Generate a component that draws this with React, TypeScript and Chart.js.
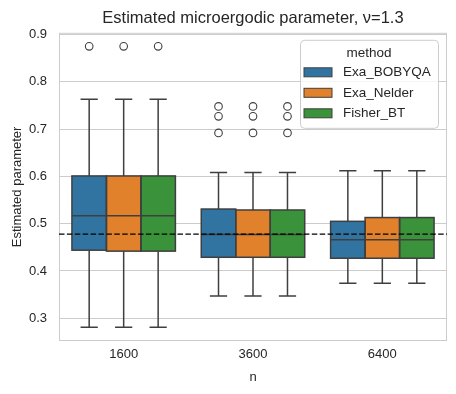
import React, { useEffect, useRef } from "react";
import { Chart, registerables } from "chart.js";

Chart.register(...registerables);

const categories = ["1600", "3600", "6400"];
const methods = ["Exa_BOBYQA", "Exa_Nelder", "Fisher_BT"];
const methodColors = ["#3274A1", "#E1812C", "#3A923A"];

// [method][category]
const whiskerLow = [
  [0.281, 0.347, 0.374],
  [0.281, 0.347, 0.374],
  [0.281, 0.347, 0.374],
];
const q1 = [
  [0.444, 0.429, 0.427],
  [0.442, 0.429, 0.427],
  [0.442, 0.429, 0.427],
];
const medians = [
  [0.517, 0.477, 0.466],
  [0.517, 0.477, 0.466],
  [0.517, 0.477, 0.466],
];
const q3 = [
  [0.601, 0.531, 0.505],
  [0.601, 0.529, 0.513],
  [0.601, 0.529, 0.513],
];
const whiskerHigh = [
  [0.763, 0.608, 0.612],
  [0.763, 0.608, 0.612],
  [0.763, 0.608, 0.612],
];
const outliers = [
  [[0.875], [0.748, 0.727, 0.692], []],
  [[0.875], [0.748, 0.727, 0.692], []],
  [[0.875], [0.748, 0.727, 0.692], []],
];
const referenceValue = 0.478;

const FONT = "'Liberation Sans', Arial, sans-serif";
const TEXT = "#262626";
const LINE = "#3f3f3f";
const GRID = "#cccccc";

const boxPlugin = {
  id: "boxplotDraw",
  beforeDatasetsDraw(chart: any) {
    const { ctx, chartArea: a } = chart;
    ctx.save();
    ctx.strokeStyle = GRID;
    ctx.lineWidth = 1;
    ctx.strokeRect(a.left + 0.5, a.top + 0.5, a.right - a.left - 1, a.bottom - a.top - 1);
    ctx.restore();
  },
  afterDatasetsDraw(chart: any) {
    const { ctx, chartArea: a } = chart;
    const ys = chart.scales.y;
    ctx.save();
    chart.data.datasets.forEach((_ds: any, d: number) => {
      const meta = chart.getDatasetMeta(d);
      meta.data.forEach((el: any, i: number) => {
        const { x, width } = el.getProps(["x", "width"], true);
        const l = x - width / 2;
        const pLo = ys.getPixelForValue(whiskerLow[d][i]);
        const pQ1 = ys.getPixelForValue(q1[d][i]);
        const pMed = ys.getPixelForValue(medians[d][i]);
        const pQ3 = ys.getPixelForValue(q3[d][i]);
        const pHi = ys.getPixelForValue(whiskerHigh[d][i]);
        ctx.strokeStyle = LINE;
        ctx.lineWidth = 1.5;
        ctx.beginPath();
        ctx.moveTo(x, pQ3);
        ctx.lineTo(x, pHi);
        ctx.moveTo(x, pQ1);
        ctx.lineTo(x, pLo);
        ctx.moveTo(x - width / 4, pHi);
        ctx.lineTo(x + width / 4, pHi);
        ctx.moveTo(x - width / 4, pLo);
        ctx.lineTo(x + width / 4, pLo);
        ctx.moveTo(l, pMed);
        ctx.lineTo(l + width, pMed);
        ctx.stroke();
        ctx.strokeRect(l, pQ3, width, pQ1 - pQ3);
        ctx.lineWidth = 1.1;
        outliers[d][i].forEach((v) => {
          ctx.beginPath();
          ctx.arc(x, ys.getPixelForValue(v), 3.8, 0, Math.PI * 2);
          ctx.stroke();
        });
      });
    });
    // reference line
    const yr = ys.getPixelForValue(referenceValue);
    ctx.setLineDash([5.5, 2.4]);
    ctx.strokeStyle = "#000";
    ctx.lineWidth = 1.3;
    ctx.beginPath();
    ctx.moveTo(a.left, yr);
    ctx.lineTo(a.right, yr);
    ctx.stroke();
    ctx.setLineDash([]);

    // legend
    const lw = 138, lh = 88;
    const lx = a.right - 9 - lw;
    const ly = a.top + 7;
    ctx.fillStyle = "rgba(255,255,255,0.8)";
    ctx.strokeStyle = GRID;
    ctx.lineWidth = 1;
    ctx.beginPath();
    ctx.roundRect(lx + 0.5, ly + 0.5, lw, lh, 4);
    ctx.fill();
    ctx.stroke();
    ctx.fillStyle = TEXT;
    ctx.font = `13.5px ${FONT}`;
    ctx.textAlign = "center";
    ctx.textBaseline = "middle";
    ctx.fillText("method", lx + lw / 2, ly + 13);
    ctx.textAlign = "left";
    methods.forEach((m, k) => {
      const cy = ly + 32.5 + k * 20.5;
      ctx.fillStyle = methodColors[k];
      ctx.fillRect(lx + 4, cy - 4.5, 28, 9);
      ctx.strokeStyle = LINE;
      ctx.lineWidth = 1;
      ctx.strokeRect(lx + 4, cy - 4.5, 28, 9);
      ctx.fillStyle = TEXT;
      ctx.fillText(m, lx + 43, cy);
    });
    ctx.restore();
  },
};

export default function App() {
  const ref = useRef<HTMLCanvasElement>(null);
  useEffect(() => {
    document.body.style.margin = "0";
    if (!ref.current) return;
    const chart = new Chart(ref.current, {
      type: "bar",
      data: {
        labels: categories,
        datasets: methods.map((m, d) => ({
          label: m,
          data: categories.map((_c, i) => [q1[d][i], q3[d][i]]),
          backgroundColor: methodColors[d],
          borderWidth: 0,
          categoryPercentage: 0.8,
          barPercentage: 1,
        })),
      },
      options: {
        responsive: false,
        animation: false,
        devicePixelRatio: 1,
        layout: { padding: { left: 0, right: 9, top: 0, bottom: 0 } },
        plugins: {
          legend: { display: false },
          tooltip: { enabled: false },
          title: {
            display: true,
            fullSize: false,
            text: "Estimated microergodic parameter, ν=1.3",
            color: TEXT,
            font: { family: FONT, size: 16.5, weight: "normal" },
            padding: { top: 9, bottom: 4 },
          },
        },
        scales: {
          x: {
            type: "category",
            offset: true,
            grid: { display: false, drawTicks: false },
            border: { display: false },
            ticks: { color: TEXT, font: { family: FONT, size: 13 }, padding: 6 },
            title: {
              display: true,
              text: "n",
              color: TEXT,
              font: { family: FONT, size: 13 },
              padding: { top: 0, bottom: 9 },
            },
            afterFit: (s: any) => {
              s.height = 53;
            },
          },
          y: {
            type: "linear",
            min: 0.252,
            max: 0.9036,
            grid: { color: GRID, lineWidth: 1, drawTicks: false },
            border: { display: false },
            ticks: {
              stepSize: 0.1,
              includeBounds: false,
              color: TEXT,
              font: { family: FONT, size: 13 },
              padding: 12,
              callback: (v: any) => Number(v).toFixed(1),
            },
            title: {
              display: true,
              text: "Estimated parameter",
              color: TEXT,
              font: { family: FONT, size: 13 },
              padding: { top: 10, bottom: 0 },
            },
            afterFit: (s: any) => {
              s.width = 59;
            },
          },
        },
      } as any,
      plugins: [boxPlugin],
    });
    return () => chart.destroy();
  }, []);
  return (
    <div style={{ width: 456, height: 394 }}>
      <canvas ref={ref} width={456} height={394} />
    </div>
  );
}
